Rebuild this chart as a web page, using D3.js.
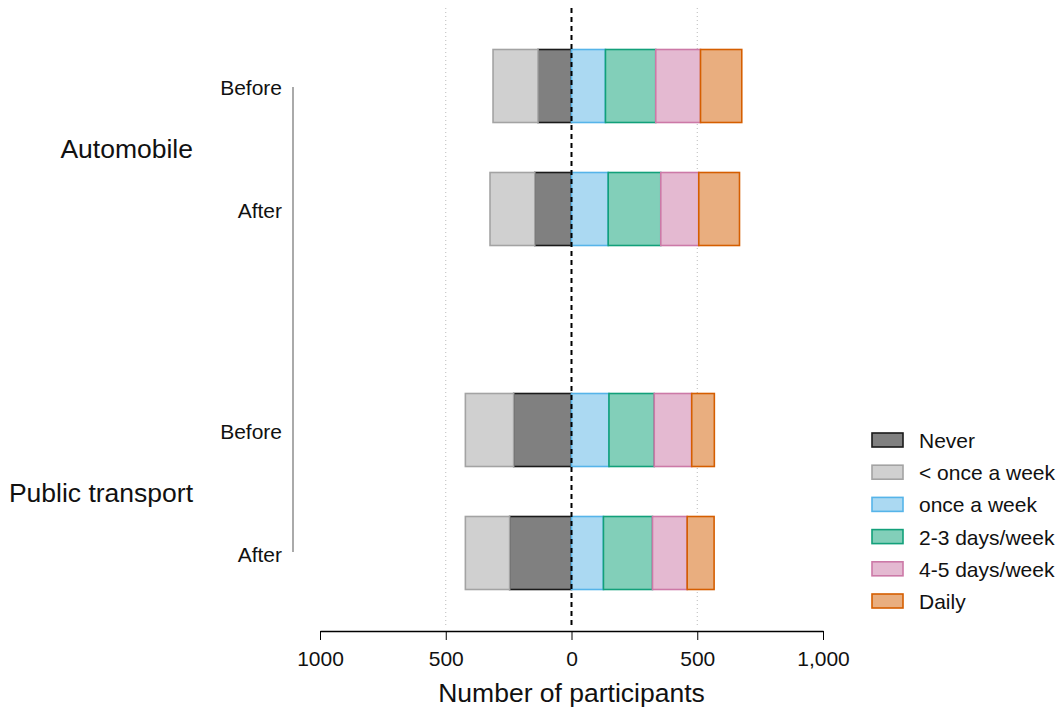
<!DOCTYPE html>
<html>
<head>
<meta charset="utf-8">
<script src="https://cdn.jsdelivr.net/npm/d3@7"></script>
<style>
body{margin:0;background:#fff;}
text{font-family:"Liberation Sans",Arial,Helvetica,sans-serif;fill:#111;}
</style>
</head>
<body>
<div id="chart"></div>
<script>
// data
var groups=["Automobile","Public transport"];
var periods=["Before","After"];
var categories=["Never","< once a week","once a week","2-3 days/week","4-5 days/week","Daily"];
var negCats=["Never","< once a week"];
var posCats=["once a week","2-3 days/week","4-5 days/week","Daily"];

var autoBefore=[133,179,135,200,178,164];
var autoAfter=[146,178,146,209,151,162];
var ptBefore=[230,192,149,180,149,90];
var ptAfter=[246,176,127,195,138,107];

var tickValues=[-1000,-500,0,500,1000];
var tickLabels=["1000","500","0","500","1,000"];

var fills=["#808080","#d0d0d0","#abd9f2","#82cfb9","#e4b9d1","#e9ae7f"];
var strokes=["#1a1a1a","#a3a3a3","#56b4e9","#12a07a","#cc79a7","#d55e00"];

var rows=[
	{group:"Automobile",period:"Before",values:autoBefore},
	{group:"Automobile",period:"After",values:autoAfter},
	{group:"Public transport",period:"Before",values:ptBefore},
	{group:"Public transport",period:"After",values:ptAfter}
];

var width=1061,height=708;

var svg=d3.select("#chart").append("svg")
	.attr("width",width)
	.attr("height",height);

var x=d3.scaleLinear().domain([-1000,1000]).range([320,823]);
var yGroup=d3.scalePoint().domain(groups).range([147.5,491.5]);
var yPeriod=d3.scalePoint().domain(periods).range([-61.5,61.5]);
var barH=73;
var color=d3.scaleOrdinal().domain(categories).range(fills);
var strokeColor=d3.scaleOrdinal().domain(categories).range(strokes);

function rowY(d){return yGroup(d.group)+yPeriod(d.period);}

// build segments
var segments=[];
rows.forEach(function(r){
	var acc=0;
	negCats.forEach(function(c){
		var v=r.values[categories.indexOf(c)];
		segments.push({row:r,cat:c,x0:-acc-v,x1:-acc});
		acc+=v;
	});
	acc=0;
	posCats.forEach(function(c){
		var v=r.values[categories.indexOf(c)];
		segments.push({row:r,cat:c,x0:acc,x1:acc+v});
		acc+=v;
	});
});

// dotted gridlines at +/-500
svg.selectAll(".grid")
	.data([-500,500])
	.enter().append("line")
	.attr("x1",function(d){return x(d);})
	.attr("x2",function(d){return x(d);})
	.attr("y1",8).attr("y2",626)
	.style("stroke","#bbb")
	.style("stroke-width","1px")
	.style("stroke-dasharray","1,3");

svg.selectAll(".seg")
	.data(segments)
	.enter().append("rect")
	.attr("class","seg")
	.attr("x",function(d){return x(d.x0);})
	.attr("width",function(d){return x(d.x1)-x(d.x0);})
	.attr("y",function(d){return rowY(d.row)-barH/2;})
	.attr("height",barH)
	.style("fill",function(d){return color(d.cat);})
	.style("stroke",function(d){return strokeColor(d.cat);})
	.style("stroke-width","1.6px");

// zero line
svg.append("line")
	.attr("x1",x(0)).attr("x2",x(0))
	.attr("y1",8).attr("y2",626)
	.style("stroke","#000")
	.style("stroke-width","2px")
	.style("stroke-dasharray","5,4");

// x axis
var axis=d3.axisBottom(x)
	.tickValues(tickValues)
	.tickSize(9)
	.tickSizeOuter(0)
	.tickPadding(11)
	.tickFormat(function(d,i){return tickLabels[i];});

var gx=svg.append("g")
	.attr("transform","translate(0,631)")
	.call(axis);
gx.select(".domain").style("stroke","#000").style("stroke-width","1.3px");
gx.selectAll(".tick line").style("stroke","#000").style("stroke-width","1px");
gx.selectAll(".tick text")
	.style("font-family","'Liberation Sans',Arial,sans-serif")
	.style("font-size","21px")
	.attr("fill","#111");

svg.append("text")
	.attr("x",x(0))
	.attr("y",702)
	.style("text-anchor","middle")
	.style("font-size","26.5px")
	.text("Number of participants");

// row labels
svg.selectAll(".rowLab")
	.data(rows)
	.enter().append("text")
	.attr("class","rowLab")
	.attr("x",282)
	.attr("y",function(d){return rowY(d)+9;})
	.style("text-anchor","end")
	.style("font-size","21px")
	.text(function(d){return d.period;});

svg.selectAll(".groupLab")
	.data(groups)
	.enter().append("text")
	.attr("class","groupLab")
	.attr("x",193)
	.attr("y",function(d){return yGroup(d)+10;})
	.style("text-anchor","end")
	.style("font-size","26.5px")
	.text(function(d){return d;});

// bracket line
svg.append("line")
	.attr("x1",293).attr("x2",293)
	.attr("y1",yGroup(groups[0])+yPeriod(periods[0])+1)
	.attr("y2",yGroup(groups[1])+yPeriod(periods[1])-1)
	.style("stroke","#aaa")
	.style("stroke-width","2px");

// legend
var legend=svg.selectAll(".legend")
	.data(categories)
	.enter().append("g")
	.attr("class","legend")
	.attr("transform",function(d,i){return "translate(872,"+(440+i*32.2)+")";});

legend.append("rect")
	.attr("x",0).attr("y",-7)
	.attr("width",31).attr("height",14)
	.style("fill",function(d){return color(d);})
	.style("stroke",function(d){return strokeColor(d);})
	.style("stroke-width","1.6px");

legend.append("text")
	.attr("x",47)
	.attr("y",8)
	.style("font-size","21px")
	.text(function(d){return d;});
</script>
</body>
</html>
